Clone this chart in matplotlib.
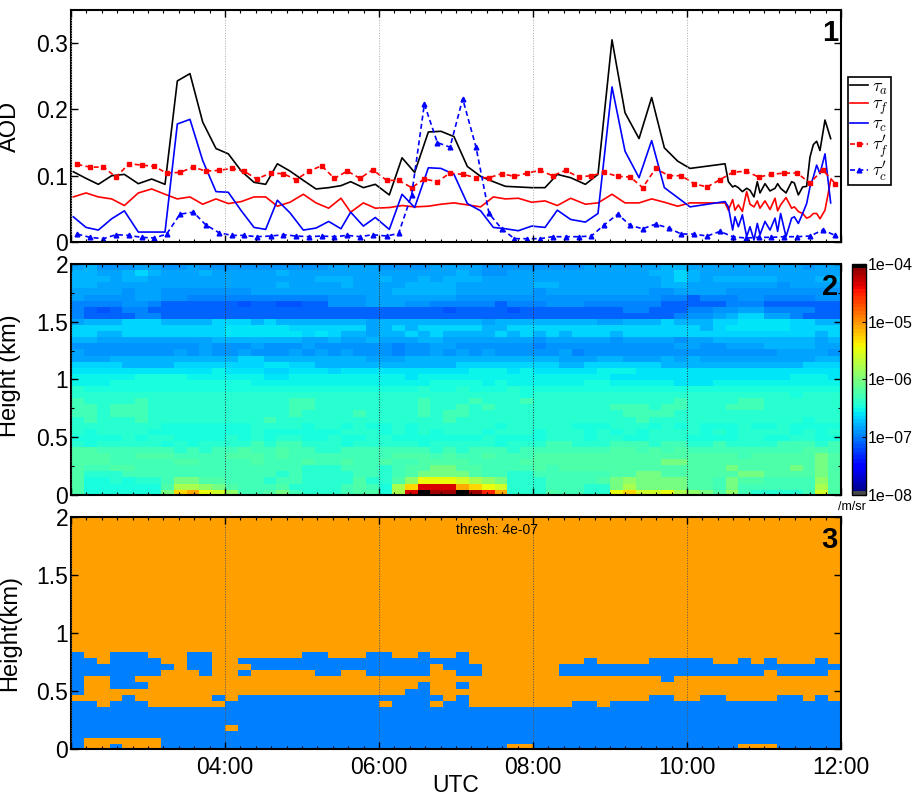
"""Three-panel lidar/AOD time series: optical depth, backscatter curtain and threshold mask."""

import matplotlib

matplotlib.use("Agg")
import matplotlib.pyplot as plt
import numpy as np
from matplotlib.colors import ListedColormap, LogNorm
from matplotlib.ticker import FuncFormatter, MultipleLocator, NullFormatter

plt.rcParams["font.family"] = ["Liberation Sans", "DejaVu Sans"]
plt.rcParams["mathtext.fontset"] = "cm"

# panel 1, solid retrievals (hours UTC, AOD)
TAU_TIME = [
    2.030, 2.195, 2.355, 2.528, 2.693, 2.874, 3.048, 3.221, 3.381, 3.545, 3.710, 3.883, 4.043, 4.212, 4.377, 4.528,
    4.680, 4.844, 5.017, 5.182, 5.346, 5.506, 5.632, 5.797, 5.952, 6.134, 6.299, 6.463, 6.641, 6.805, 6.974,
    7.147, 7.320, 7.485, 7.641, 7.809, 7.983, 8.156, 8.316, 8.489, 8.680, 8.844, 9.026, 9.195, 9.377, 9.541, 9.706,
    9.879, 10.039, 10.494, 10.537, 10.593, 10.623, 10.667, 10.719, 10.775, 10.818, 10.870, 10.913, 10.948, 11.013,
    11.078, 11.143, 11.177, 11.216, 11.286, 11.359, 11.394, 11.446, 11.502, 11.554, 11.597, 11.641, 11.684, 11.727,
    11.792, 11.866,
]
TAU_A = [
    .106, .096, .087, .100, .102, .088, .095, .087, .243, .254, .181, .141, .133, .107, .090, .087,
    .118, .107, .093, .080, .082, .085, .091, .082, .087, .071, .127, .105, .166, .167, .159,
    .114, .099, .091, .084, .083, .082, .082, .102, .097, .087, .102, .305, .195, .156, .218, .142,
    .122, .111, .118, .091, .083, .085, .082, .076, .081, .078, .068, .091, .074, .088,
    .077, .081, .088, .081, .074, .091, .089, .071, .083, .084, .128, .147, .152, .138,
    .184, .156,
]
TAU_F = [
    .068, .074, .068, .065, .055, .074, .080, .072, .065, .068, .057, .065, .058, .061, .068, .068,
    .054, .060, .072, .059, .051, .066, .045, .059, .051, .052, .055, .053, .054, .057, .059,
    .056, .053, .068, .065, .066, .060, .062, .055, .066, .057, .059, .072, .059, .059, .065, .060,
    .054, .059, .059, .048, .064, .048, .056, .046, .076, .057, .053, .062, .051, .062,
    .049, .066, .047, .056, .067, .051, .053, .046, .043, .036, .038, .043, .043, .035,
    .048, .093,
]
TAU_C = [
    .038, .022, .018, .035, .047, .015, .015, .015, .178, .185, .123, .076, .075, .047, .022, .019,
    .063, .044, .018, .021, .031, .020, .045, .024, .037, .019, .072, .052, .112, .111, .102,
    .058, .047, .022, .020, .017, .024, .022, .048, .034, .030, .043, .234, .137, .097, .153, .082,
    .067, .053, .061, .053, .018, .038, .023, .041, .008, .023, .003, .028, .011, .031,
    .018, .036, .016, .043, .008, .036, .038, .028, .043, .058, .083, .098, .116, .103,
    .133, .059,
]

# panel 1, dashed retrievals
PRIME_TIME = [
    2.082, 2.247, 2.420, 2.584, 2.753, 2.918, 3.082, 3.242, 3.416, 3.589, 3.749, 3.922, 4.087, 4.247, 4.411,
    4.593, 4.758, 4.922, 5.091, 5.255, 5.420, 5.589, 5.753, 5.918, 6.100, 6.255, 6.424, 6.589, 6.758, 6.922,
    7.087, 7.260, 7.429, 7.593, 7.758, 7.926, 8.091, 8.255, 8.424, 8.593, 8.758, 8.926, 9.100, 9.264, 9.424,
    9.593, 9.762, 9.926, 10.091, 10.260, 10.429, 10.593, 10.762, 10.931, 11.095, 11.260, 11.429, 11.597, 11.762, 11.926,
]
TAU_F_PRIME = [
    .117, .113, .113, .098, .118, .116, .114, .104, .105, .113, .107, .108, .111, .107, .095,
    .104, .103, .094, .107, .115, .096, .107, .096, .109, .093, .093, .082, .095, .091, .104,
    .102, .097, .097, .103, .099, .104, .108, .100, .108, .098, .100, .105, .099, .098, .082,
    .111, .100, .100, .088, .083, .094, .105, .107, .098, .102, .104, .104, .089, .109, .088,
]
TAU_C_PRIME = [
    .012, .007, .005, .011, .010, .007, .006, .012, .042, .045, .026, .014, .010, .010, .008,
    .009, .011, .009, .008, .009, .008, .010, .008, .011, .009, .013, .071, .208, .150, .143,
    .216, .143, .043, .020, .005, .005, .005, .008, .008, .008, .009, .026, .042, .025, .020,
    .027, .021, .012, .012, .009, .016, .008, .006, .007, .007, .008, .008, .009, .018, .010,
]

LEGEND_LABELS = [r"$\tau_a$", r"$\tau_f$", r"$\tau_c$", r"$\tau^{\prime}_f$", r"$\tau^{\prime}_c$"]

# panel 2, one character per 10-minute column, rows from the ground up
LEVEL_CODES = "0123456789abcdefghijklmno"
LEVEL_LOG10 = [
    -7.14, -7.08, -7.00, -6.92, -6.84, -6.76, -6.68, -6.60, -6.53, -6.46, -6.38, -6.30, -6.20,
    -6.06, -5.90, -5.76, -5.60, -5.48, -5.28, -5.08, -4.80, -4.52, -4.36, -4.16, -4.00,
]
BACKSCATTER_ROWS = [
    "c999999dij hgebbcdbaa abcc9fmonn onljaaacbb aahigghfed cebaaaabgc",
    "c999999cff edcbbbcaaa abcb9fimmm jihgaaabbb aadfddddcc bdbbbbbbfc",
    "c99a9aabdd ccbbbabbaa aacaacehhh gfedaaabbb bcdeddddcc bdccbbbbec",
    "caaabbbbbb bbbbbbabaa aabbabcddd dcbbaabbbb bbccddcccc ccddccccdc",
    "cbbccbbbbb bbbbbbbbaa abbbabccdd ccbbbbcbcc cccccccccc cdccccdcdc",
    "cccbbbbbcc bbbbcbbbcb bcbbcbbccc cbbbbccccc ccccccddcc ccccccccdc",
    "cccbbcccbb bbcccbcbbb bbbbbcccbc bbcbbbcccc cccccccccc ccbcccccdc",
    "ccbbbbbbab abbcbbcbba abbbbbbbab abbbabbbbb bbccbcbcbb bbbbbbbccb",
    "a9aaaaa9a9 aaaababbaa a9aaaaa9aa aaa9aaabba aabbbabbaa baaaabbbab",
    "9999a9aa99 99a9a9aa99 a99aa99999 99a9999aaa 9aa99aaa99 99aa99aa99",
    "a9aaaa9999 9999a99999 9aaa9a9a9a aa9aaa9aaa 9a9a9aaaa9 a9aaaa9a9a",
    "aaaaaaa999 9999aaaa9a a9a99a9aaa aaa9aaaaa9 99aaa9a9a9 99a99a9999",
    "abaaabaaaa aaaaabaaaa aaaaaaaaab aaaaaaaaaa aaaabaaaaa aaaaaaa9aa",
    "bbabbbaaaa aaaaaaabaa aabaaaabab baaaaaaaaa aaabbbbaaa aaaaaaaaaa",
    "bbabbbaaaa aaaaaaabba aaaaaaabaa babaaaaaaa aabbbabbaa abbbaaaaaa",
    "baaaabaaaa aaaaaaabba aaaaaaabaa abaaabaaaa aaaaaaabaa aabbaaaaaa",
    "aaaaaaaaaa aaaaaaaaaa aaaaaaaaaa aaaaa9aaaa aaaaaaaaaa aaaaaa9aaa",
    "a999999999 9999999999 9999999a99 a999a99999 9999999999 9999999999",
    "8889999999 9999888888 8888888899 9989888888 9988888777 8888888888",
    "8888899998 8888877888 8888887888 8888888888 8877777777 7777778887",
    "7777777777 7877766777 6777777777 7888787777 7888777777 7777777777",
    "6666555566 6666677665 5555555555 6666666655 6666665555 5555555666",
    "4445555555 5556655555 5554445555 5555555544 4554445454 4444444455",
    "4333333343 4334333434 3433323343 4343333342 3333333333 3333344443",
    "3333333333 4333433343 3333323344 3333332333 3333333443 3444555544",
    "5544444444 4555555544 5445444554 4444443444 4434444344 5555555545",
    "6655666666 6677777767 6554556565 5556565656 6656666666 6666666656",
    "6666666666 6677777666 6664565666 6655666666 6666666665 6777776666",
    "4555666555 5666565555 5554555555 5545555555 5445556555 6677776655",
    "2111122111 1111111111 1111111111 1111111111 1111111233 4566442111",
    "2101221111 1111111111 1111111110 1111011111 1112211122 3344222211",
    "2222332111 1110110011 3334443322 2221222333 2222221111 1222111111",
    "4333344332 2222222222 3334444444 3333333333 3333332212 2233222233",
    "4444344333 3333444444 4444455555 4444443444 4444433444 4333333333",
    "5544444444 4444445444 4544445555 4444445544 4444445544 4444434444",
    "5554554444 4444444445 5544544545 5544444444 4444445654 5555544455",
    "5544565444 5444445444 4444444444 5433444444 4444455654 4444444444",
    "4533344334 3333333333 4444333344 4433333333 4444445544 4444444344",
    "4433344344 3444443344 3334443344 4433344333 3333345443 3444333444",
]
COLORBAR_TICKS = [1e-8, 1e-7, 1e-6, 1e-5, 1e-4]
COLORBAR_LABELS = ["1e\u221208", "1e\u221207", "1e\u221206", "1e\u221205", "1e\u221204"]

# panel 3, (first, last) columns above the threshold per row, rows above the list are all below it
ABOVE_THRESH_RUNS = [
    [(0, 0), (3, 3), (7, 33), (36, 51), (55, 59)],
    [(0, 0), (7, 59)],
    [(0, 59)],
    [(0, 11), (13, 59)],
    [(0, 59)],
    [(0, 59)],
    [(0, 59)],
    [(0, 1), (3, 5), (12, 23), (25, 27), (29, 30), (39, 40), (42, 59)],
    [(4, 4), (11, 11), (13, 28), (30, 30), (45, 46), (49, 50), (55, 56), (58, 58)],
    [(0, 0), (26, 27)],
    [(0, 0), (3, 5), (27, 27), (30, 30)],
    [(0, 0), (3, 4), (46, 46)],
    [(0, 6), (10, 10), (13, 13), (19, 20), (23, 27), (30, 31), (38, 53), (55, 58)],
    [(0, 7), (9, 10), (14, 27), (29, 31), (38, 59)],
    [(0, 1), (3, 6), (9, 10), (13, 30), (40, 40), (45, 49), (52, 52), (54, 54), (58, 58)],
    [(0, 0), (3, 5), (9, 10), (18, 19), (23, 24), (27, 27), (30, 30)],
]

FIG_W, FIG_H = 914, 795
AXES_LEFT, AXES_RIGHT = 71, 841
TIME_EDGES = 2 + np.arange(61) / 6
HEIGHT_EDGES = np.concatenate([[0], 0.046 + 0.0528 * np.arange(39)])
ORANGE = "#FFA000"
BLUE = "#0080FF"


def add_axes_px(fig, left, right, top, bottom):
    return fig.add_axes([left / FIG_W, 1 - bottom / FIG_H, (right - left) / FIG_W, (bottom - top) / FIG_H])


def format_hour(value, _position):
    # the left edge of the axis carries no label
    if value < 3:
        return ""
    return f"{int(round(value)):02d}:00"


def format_plain(value, _position):
    return f"{value:g}"


def style_axes(ax, grid_color, minor_y=None):
    for spine in ax.spines.values():
        spine.set_linewidth(1.5)
    ax.set_xlim(2, 12)
    ax.xaxis.set_major_locator(MultipleLocator(2))
    ax.xaxis.set_minor_locator(MultipleLocator(0.2))
    ax.xaxis.set_major_formatter(NullFormatter())
    ax.yaxis.set_major_formatter(FuncFormatter(format_plain))
    if minor_y:
        ax.yaxis.set_minor_locator(MultipleLocator(minor_y))
    ax.tick_params(which="major", direction="in", top=True, right=True, length=5, width=1, labelsize=16.5)
    ax.tick_params(which="minor", direction="in", top=True, right=True, length=2.5, width=0.8)
    ax.tick_params(axis="x", which="major", pad=5)
    ax.tick_params(axis="y", which="major", pad=2)
    ax.set_axisbelow(False)
    ax.grid(axis="x", which="major", color=grid_color, linestyle=":", linewidth=0.7)


def build_cmap():
    colors = plt.get_cmap("jet", 64)(np.arange(64))
    colors[0] = (0.28, 0.28, 0.28, 1)
    colors[-1] = (0, 0, 0, 1)
    cmap = ListedColormap(colors)
    cmap.set_over("black")
    return cmap


def plot_aod(ax):
    ax.plot(TAU_TIME, TAU_A, color="black", linewidth=1.2, label=LEGEND_LABELS[0])
    ax.plot(TAU_TIME, TAU_F, color="red", linewidth=1.2, label=LEGEND_LABELS[1])
    ax.plot(TAU_TIME, TAU_C, color="blue", linewidth=1.2, label=LEGEND_LABELS[2])
    ax.plot(PRIME_TIME, TAU_F_PRIME, color="red", linestyle="--", linewidth=1.2, marker="s", markersize=2.4,
            dashes=(3, 2), label=LEGEND_LABELS[3])
    ax.plot(PRIME_TIME, TAU_C_PRIME, color="blue", linestyle="--", linewidth=1.2, marker="^", markersize=3.4,
            dashes=(3, 2), label=LEGEND_LABELS[4])
    ax.set_ylim(0, 0.35)
    ax.set_yticks([0, 0.1, 0.2, 0.3])
    ax.set_ylabel("AOD", fontsize=17)
    style_axes(ax, "#AAAAAA")
    legend = ax.legend(
        loc="upper left",
        bbox_to_anchor=(847.5 / FIG_W, 1 - 76.5 / FIG_H),
        bbox_transform=ax.figure.transFigure,
        fontsize=13,
        handlelength=1.0,
        handletextpad=0.25,
        labelspacing=-0.04,
        borderpad=0.12,
        borderaxespad=0,
        fancybox=False,
        framealpha=1,
        edgecolor="black",
    )
    legend.get_frame().set_linewidth(1.2)


def plot_backscatter(ax, cax):
    rows = [list(row.replace(" ", "")) for row in BACKSCATTER_ROWS]
    lookup = dict(zip(LEVEL_CODES, LEVEL_LOG10))
    values = 10 ** np.array([[lookup[code] for code in row] for row in rows])
    mesh = ax.pcolormesh(TIME_EDGES, HEIGHT_EDGES, values, cmap=build_cmap(), norm=LogNorm(1e-8, 1e-4), linewidth=0)
    ax.set_ylim(0, 2)
    ax.set_yticks([0, 0.5, 1, 1.5, 2])
    ax.set_ylabel("Height (km)", fontsize=17)
    style_axes(ax, "#303030", minor_y=0.25)

    colorbar = ax.figure.colorbar(mesh, cax=cax)
    colorbar.set_ticks(COLORBAR_TICKS, labels=COLORBAR_LABELS)
    colorbar.ax.minorticks_off()
    colorbar.ax.tick_params(direction="in", length=3, width=0.8, labelsize=11.5, pad=1.5)
    colorbar.outline.set_linewidth(1)
    ax.figure.text(866 / FIG_W, 1 - 507 / FIG_H, "/m/sr", fontsize=9, ha="right", va="center")


def plot_threshold(ax):
    mask = np.zeros((len(HEIGHT_EDGES) - 1, len(TIME_EDGES) - 1))
    for row, runs in enumerate(ABOVE_THRESH_RUNS):
        for first, last in runs:
            mask[row, first : last + 1] = 1
    ax.pcolormesh(TIME_EDGES, HEIGHT_EDGES, mask, cmap=ListedColormap([ORANGE, BLUE]), vmin=0, vmax=1, linewidth=0)
    ax.set_ylim(0, 2)
    ax.set_yticks([0, 0.5, 1, 1.5, 2])
    ax.set_ylabel("Height(km)", fontsize=17)
    style_axes(ax, "#505050")
    ax.xaxis.set_major_formatter(FuncFormatter(format_hour))
    ax.set_xlabel("UTC", fontsize=16.5, va="center")
    ax.xaxis.set_label_coords(0.5, (749 - 785) / 232)
    ax.text(0.553, 0.945, "thresh: 4e-07", transform=ax.transAxes, fontsize=10, ha="center", va="center")


def main():
    fig = plt.figure(figsize=(FIG_W / 100, FIG_H / 100), dpi=100)
    ax_aod = add_axes_px(fig, AXES_LEFT, AXES_RIGHT, 10, 242)
    ax_back = add_axes_px(fig, AXES_LEFT, AXES_RIGHT, 264, 495)
    ax_mask = add_axes_px(fig, AXES_LEFT, AXES_RIGHT, 517, 749)
    cax = add_axes_px(fig, 852, 866, 264, 495)

    plot_aod(ax_aod)
    plot_backscatter(ax_back, cax)
    plot_threshold(ax_mask)

    for number, ax in zip("123", (ax_aod, ax_back, ax_mask)):
        ax.text(0.996, 0.9, number, transform=ax.transAxes, fontsize=21, fontweight="bold", ha="right", va="center")
    label_x = (21 - AXES_LEFT) / (AXES_RIGHT - AXES_LEFT)
    ax_aod.yaxis.set_label_coords(label_x, 0.5)
    ax_back.yaxis.set_label_coords(label_x, 0.517)
    ax_mask.yaxis.set_label_coords(label_x, 0.5)

    fig.savefig("out.png", dpi=100)
    plt.close(fig)


if __name__ == "__main__":
    main()
